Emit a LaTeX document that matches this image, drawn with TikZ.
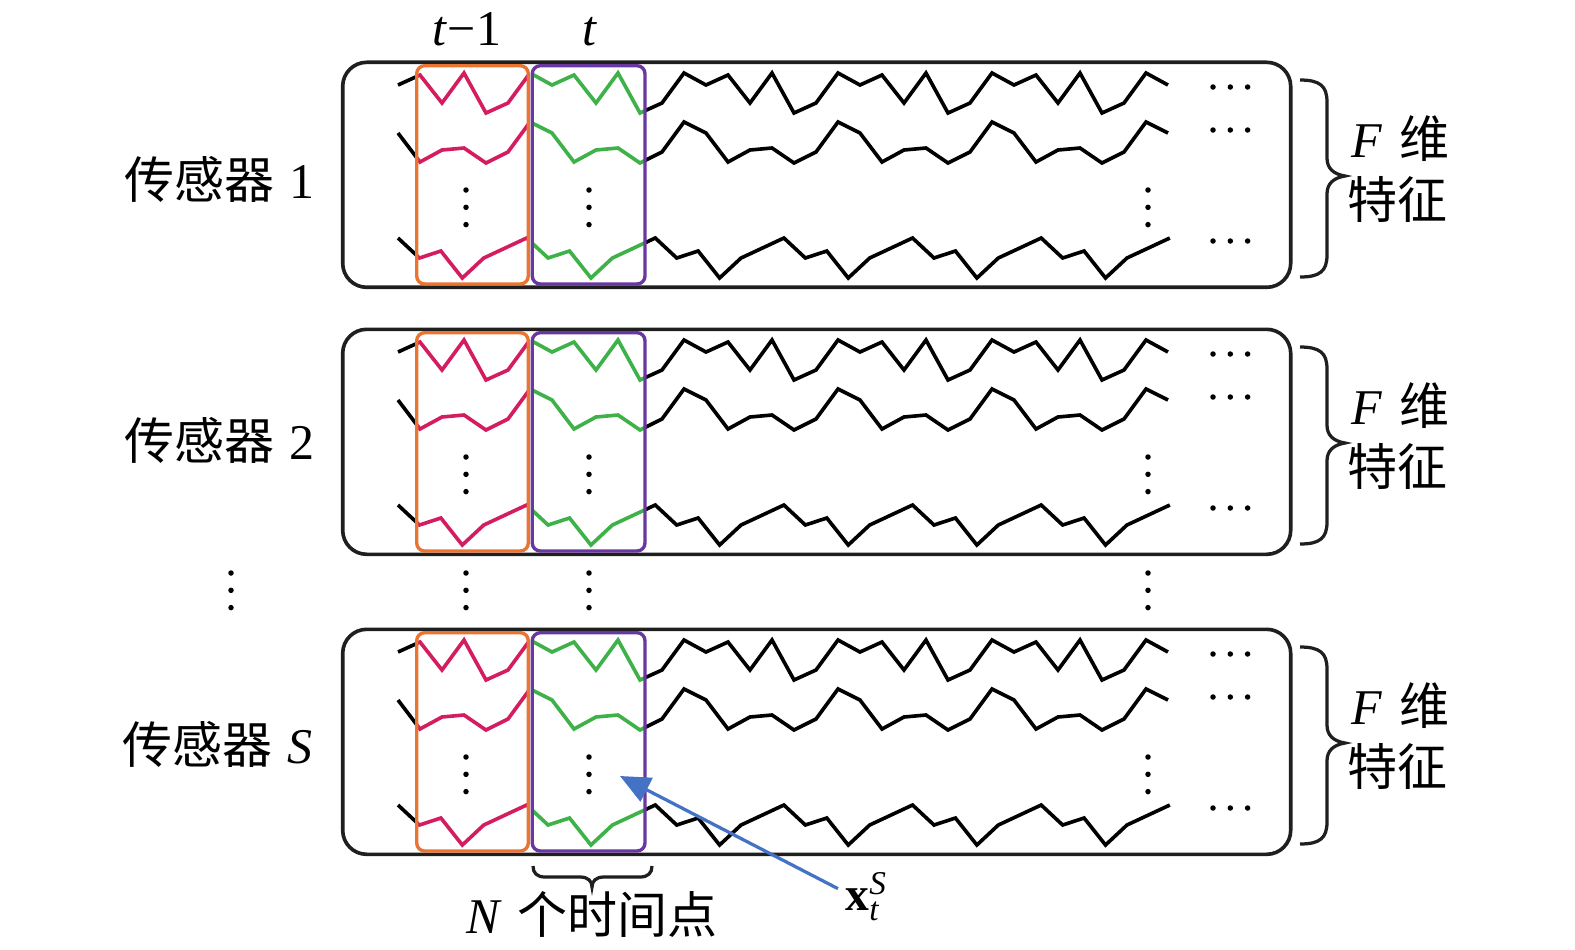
\documentclass[tikz,border=0pt]{standalone}
\usepackage{fontspec}
\usepackage{amsmath}
\setmainfont{Liberation Serif}
\newfontfamily\zh{Noto Sans CJK SC}
\usetikzlibrary{arrows.meta}
\definecolor{cOrange}{RGB}{234,116,50}
\definecolor{cPurple}{RGB}{105,55,160}
\definecolor{cMag}{RGB}{212,28,96}
\definecolor{cGreen}{RGB}{62,178,72}
\definecolor{cBlue}{RGB}{68,114,196}
\newcommand\pwaves[1]{%
  \draw[wv] plot[variable=\i, samples at={0,...,35}] ({398+22*\i},{#1+{85,75,103,73,113,103,73}[int(mod(\i,7))]});
  \draw[wv] plot[variable=\i, samples at={0,...,35}] ({398+22*\i},{#1+{133,162,150,148,163,152,122}[int(mod(\i,7))]});
  \draw[wv] plot[variable=\i, samples at={0,...,36}] ({398+21.44*\i},{#1+{238,258,251,278,258,248}[int(mod(\i,6))]});
}
\newcommand\vdotsat[2]{%
  \fill (#1,#2) circle[radius=1.1pt] (#1,{#2+17.3}) circle[radius=1.1pt] (#1,{#2+34.6}) circle[radius=1.1pt];
}
\newcommand\hdotsat[2]{%
  \fill (#1,#2) circle[radius=1.1pt] ({#1+17.3},#2) circle[radius=1.1pt] ({#1+34.6},#2) circle[radius=1.1pt];
}
\begin{document}
\begin{tikzpicture}[x=0.4pt, y=-0.4pt,
  wv/.style={line width=1.45pt, line join=miter},
  panelbox/.style={draw=black!88, line width=1.45pt, rounded corners=9.6pt},
  obox/.style={draw=cOrange, line width=1.35pt, rounded corners=3.2pt},
  pbox/.style={draw=cPurple, line width=1.35pt, rounded corners=3.2pt},
  brc/.style={draw=black!88, line width=1.3pt},
  lbl/.style={font=\fontsize{20}{24}\selectfont, inner sep=0pt},
  barrow/.style={draw=cBlue, line width=1.3pt, -{Triangle[length=12pt,width=10.5pt]}}]
\useasboundingbox (0,0) rectangle (1575,949);

% black waveform parts
\begin{scope}
  \clip (0,0) rectangle (416.7,949) (645,0) rectangle (1575,949);
  \foreach \dy in {0,267,567} {\pwaves{\dy}}
\end{scope}
% t-1 window
\begin{scope}[color=cMag]
  \clip (416.7,0) rectangle (528.3,949);
  \foreach \dy in {0,267,567} {\pwaves{\dy}}
\end{scope}
% t window
\begin{scope}[color=cGreen]
  \clip (532.3,0) rectangle (645,949);
  \foreach \dy in {0,267,567} {\pwaves{\dy}}
\end{scope}

% panels, windows, braces, dots
\foreach \dy in {0,267,567} {
  \draw[panelbox] (342.7,{62.3+\dy}) rectangle (1290.7,{287.3+\dy});
  \draw[obox] (416.7,{65.7+\dy}) rectangle (528.3,{284+\dy});
  \draw[pbox] (532.3,{65.7+\dy}) rectangle (645,{284+\dy});
  \draw[brc] (1300,{80+\dy}) .. controls (1320,{80+\dy}) and (1327,{86+\dy}) .. (1327,{102+\dy})
     -- (1327,{158+\dy}) .. controls (1327,{168+\dy}) and (1333,{174+\dy}) .. (1345,{176+\dy})
     .. controls (1333,{178+\dy}) and (1327,{184+\dy}) .. (1327,{194+\dy})
     -- (1327,{255+\dy}) .. controls (1327,{271+\dy}) and (1320,{277+\dy}) .. (1300,{277+\dy});
  \vdotsat{466}{190+\dy}
  \vdotsat{589}{190+\dy}
  \vdotsat{1148}{190+\dy}
  \hdotsat{1213}{87+\dy}
  \hdotsat{1213}{130+\dy}
  \hdotsat{1213}{241+\dy}
}
% dots between panels
\vdotsat{231}{573}
\vdotsat{466}{573}
\vdotsat{589}{573}
\vdotsat{1148}{573}

% labels
\node[lbl, anchor=base] (tm1) at (467,45) {\textit{t}−1};
\node[lbl, anchor=base] (tt) at (590,45) {\textit{t}};
\node[lbl, anchor=base west] (s1) at (124,198) {{\zh 传感器}\hspace{0.3em}1};
\node[lbl, anchor=base west] (s2) at (124,459) {{\zh 传感器}\hspace{0.3em}2};
\node[lbl, anchor=base west] (sS) at (122,763) {{\zh 传感器}\hspace{0.3em}\textit{S}};
\foreach \dy/\nm in {0/a,267/b,567/c} {
  \node[lbl, anchor=base west] (fw\nm) at (1351,{157+\dy}) {\textit{F}\hspace{0.35em}{\zh 维}};
  \node[lbl, anchor=base west] (tz\nm) at (1347,{218+\dy}) {{\zh 特征}};
}
% N brace and label
\draw[brc] (533,866) .. controls (533,873) and (537,877) .. (545,877) -- (580,877)
   .. controls (588,877) and (592,881) .. (592,887) .. controls (592,881) and (596,877) .. (604,877)
   -- (640,877) .. controls (648,877) and (652,873) .. (652,866);
\node[lbl, anchor=base] (nlab) at (592,933) {\textit{N}\hspace{0.3em}{\zh 个时间点}};

% x_t^S label and arrow
\node[inner sep=0pt, anchor=base west, font=\fontsize{19}{22}\selectfont] (xs) at (845,910) {\textbf{x}$_{\textit{t}}^{\textit{S}}$};
\coordinate (tipS) at (620,776);
\draw[barrow] ([shift={(-7,-8)}]xs.west) -- (tipS);
\end{tikzpicture}
\end{document}
